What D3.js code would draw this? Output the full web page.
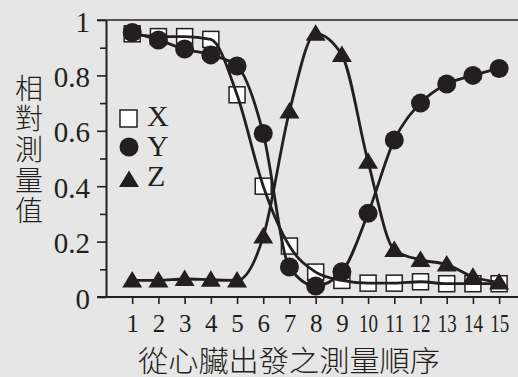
<!DOCTYPE html>
<html><head><meta charset="utf-8">
<script src="https://cdn.jsdelivr.net/npm/d3@7"></script>
<style>
html,body{margin:0;padding:0;background:#e6e6e6;}
svg{display:block;}
</style></head>
<body>
<svg id="c" width="518" height="377"></svg>
<script>
const categories = [1,2,3,4,5,6,7,8,9,10,11,12,13,14,15];
const seriesX = [0.95,0.94,0.94,0.93,0.73,0.40,0.184,0.09,0.06,0.05,0.05,0.055,0.048,0.048,0.048];
const seriesY = [0.955,0.928,0.895,0.874,0.834,0.59,0.108,0.04,0.091,0.302,0.567,0.70,0.769,0.80,0.825];
const seriesZ = [0.06,0.06,0.065,0.062,0.06,0.218,0.67,0.95,0.874,0.488,0.17,0.134,0.117,0.073,0.052];
const yTicks = [0,0.2,0.4,0.6,0.8,1];
const yTickLabels = ["0","0.2","0.4","0.6","0.8","1"];
const legendLabels = ["X","Y","Z"];
const yTitle = "相對測量值";
const xTitle = "從心臟出發之測量順序";

const ink = "#231f20";
const svg = d3.select("#c");
const x = d3.scaleLinear().domain([0,15.72]).range([106,518]);
const y = d3.scaleLinear().domain([0,1]).range([297,20]);

// frame: top line and axes
svg.append("line").attr("x1",97).attr("x2",518).attr("y1",y(1)).attr("y2",y(1))
  .attr("stroke",ink).attr("stroke-width",1.6);

const yAxis = d3.axisLeft(y).tickValues(d3.range(0,1.0001,0.1)).tickSize(0).tickFormat("");
const gy = svg.append("g").attr("transform","translate(106,0)").call(yAxis);
gy.select(".domain").attr("stroke",ink).attr("stroke-width",2);
gy.selectAll(".tick line").attr("stroke",ink).attr("stroke-width",1.6)
  .attr("x2",(d,i)=> i%2===0 ? -9 : -6);

const yLab = d3.axisLeft(y).tickValues(yTicks).tickSize(0)
  .tickFormat((d,i)=>yTickLabels[i]);
const gyl = svg.append("g").attr("transform","translate(106,0)").call(yLab);
gyl.select(".domain").remove();
gyl.selectAll(".tick text").attr("x",-16).attr("dy",null).attr("y",11).attr("fill",ink)
  .style("font-family","'Liberation Serif','DejaVu Serif',serif").style("font-size","29px");

const xAxis = d3.axisBottom(x).tickValues(categories).tickSize(0).tickFormat("");
const gx = svg.append("g").attr("transform","translate(0,297)").call(xAxis);
gx.select(".domain").remove();
svg.append("line").attr("x1",97).attr("x2",518).attr("y1",297).attr("y2",297)
  .attr("stroke",ink).attr("stroke-width",2);
gx.selectAll(".tick line").attr("stroke",ink).attr("stroke-width",1.6).attr("y2",7);
gx.selectAll(".tick").append("text")
  .attr("y",35).attr("fill",ink).attr("text-anchor","middle")
  .style("font-family","'Liberation Serif','DejaVu Serif',serif").style("font-size","25px")
  .each(function(d){
    const t = d3.select(this).text(d);
    if (String(d).length>1) t.attr("textLength",19).attr("lengthAdjust","spacingAndGlyphs");
  });

// titles
const cjk = "'Noto Sans CJK TC','Noto Sans CJK SC',sans-serif";
svg.append("text").attr("x",29).attr("y",74)
  .attr("fill",ink)
  .style("writing-mode","vertical-rl").style("text-orientation","upright")
  .style("letter-spacing","2.7px")
  .style("font-family",cjk).style("font-size","28px").style("font-weight",300)
  .text(yTitle);
svg.append("text").attr("x",289).attr("y",372).attr("text-anchor","middle").attr("fill",ink)
  .style("font-family",cjk).style("font-size","29px").style("font-weight",300)
  .attr("textLength",302).attr("lengthAdjust","spacingAndGlyphs")
  .text(xTitle);

// curves
const line = d3.line().x((d,i)=>x(categories[i])).y(d=>y(d)).curve(d3.curveMonotoneX);
const triPath = "M0,-9.5L10,7L-10,7Z";

// squares (X)
svg.append("g").selectAll("rect").data(seriesX).join("rect")
  .attr("x",(d,i)=>x(categories[i])-8).attr("y",d=>y(d)-8)
  .attr("width",16).attr("height",16)
  .attr("fill","#ffffff").attr("stroke",ink).attr("stroke-width",1.5);

[seriesX,seriesY,seriesZ].forEach(s=>{
  svg.append("path").datum(s).attr("d",line).attr("fill","none")
    .attr("stroke",ink).attr("stroke-width",2.8);
});

svg.append("g").selectAll("circle").data(seriesY).join("circle")
  .attr("cx",(d,i)=>x(categories[i])).attr("cy",d=>y(d)).attr("r",9.5).attr("fill",ink);

svg.append("g").selectAll("path").data(seriesZ).join("path")
  .attr("transform",(d,i)=>`translate(${x(categories[i])},${y(d)})`)
  .attr("d",triPath).attr("fill",ink);

// legend
const lg = svg.append("g");
lg.append("rect").attr("x",120).attr("y",110).attr("width",17).attr("height",17)
  .attr("fill","#ffffff").attr("stroke",ink).attr("stroke-width",1.5);
lg.append("circle").attr("cx",129).attr("cy",147).attr("r",9.5).attr("fill",ink);
lg.append("path").attr("transform","translate(129,180)").attr("d",triPath).attr("fill",ink);
lg.selectAll("text").data(legendLabels).join("text")
  .attr("x",147).attr("y",(d,i)=>126+i*30).attr("fill",ink)
  .style("font-family","'Liberation Serif','DejaVu Serif',serif").style("font-size","30px")
  .text(d=>d);
</script>
</body></html>
